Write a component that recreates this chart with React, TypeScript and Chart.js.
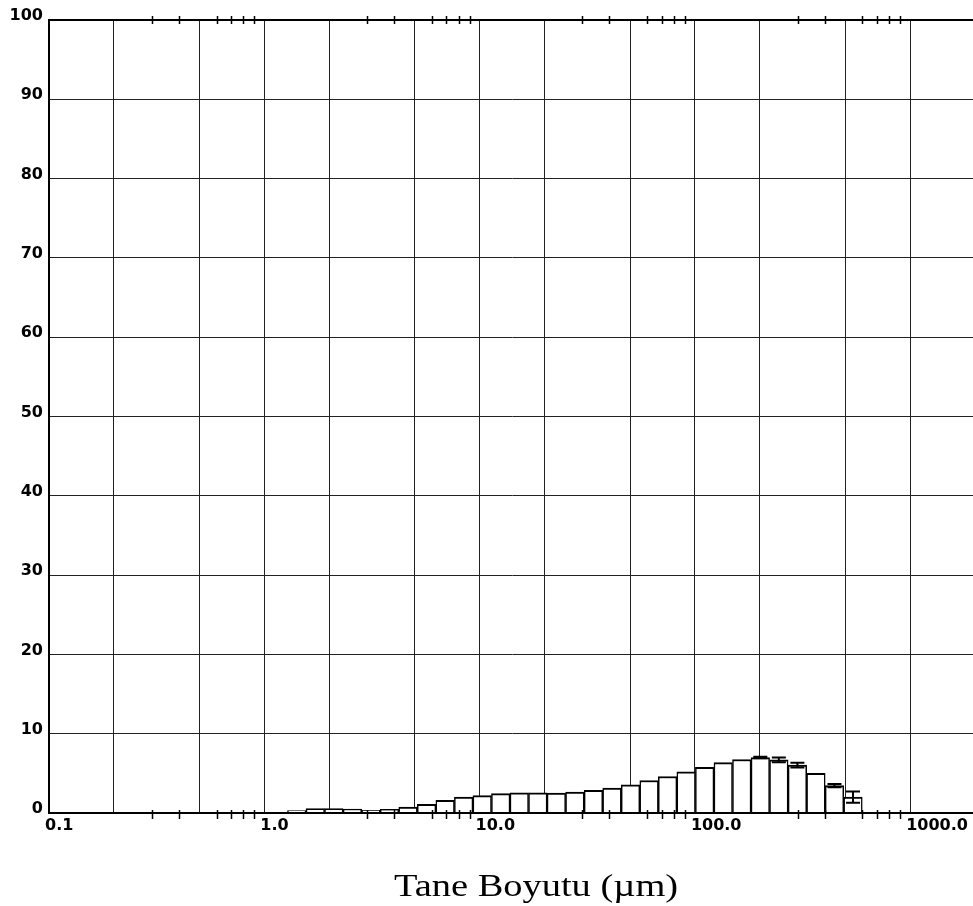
import React, { useEffect, useRef } from 'react';
import { Chart, registerables } from 'chart.js';

Chart.register(...registerables);

// Bin edges (µm)
const binEdges = [
  1.281, 1.563, 1.905, 2.323, 2.833, 3.454, 4.212, 5.136, 6.263, 7.636, 9.311,
  11.35, 13.84, 16.88, 20.58, 25.09, 30.6, 37.31, 45.49, 55.46, 67.63, 82.46,
  100.5, 122.6, 149.5, 182.3, 222.3, 271.0, 330.5, 402.9, 491.3, 599.0,
];
// Volume % per bin
const volumePercent = [
  0.3, 0.55, 0.55, 0.5, 0.35, 0.45, 0.75, 1.1, 1.6, 2.0, 2.2, 2.45, 2.55, 2.55,
  2.5, 2.65, 2.85, 3.15, 3.55, 4.1, 4.6, 5.2, 5.75, 6.35, 6.75, 7.0, 6.7, 6.05,
  5.0, 3.45, 2.0,
];
// Half-length of error bars per bin
const errorHalf = [
  0, 0, 0, 0, 0, 0, 0, 0, 0, 0, 0, 0, 0, 0, 0, 0, 0, 0, 0, 0, 0, 0, 0, 0, 0,
  0.1, 0.3, 0.3, 0, 0.2, 0.7,
];

const xGridValues = [0.1, 0.2, 0.5, 1, 2, 5, 10, 20, 50, 100, 200, 500, 1000, 2000];
const xLabelValues = [0.1, 1, 10, 100, 1000];
const xLabelTexts = ['0.1', '1.0', '10.0', '100.0', '1000.0'];
const xMinorValues = [
  0.3, 0.4, 0.6, 0.7, 0.8, 0.9, 3, 4, 6, 7, 8, 9, 30, 40, 60, 70, 80, 90, 300,
  400, 600, 700, 800, 900,
];
const yTickValues = [0, 10, 20, 30, 40, 50, 60, 70, 80, 90, 100];
const xTitle = 'Tane Boyutu (µm)';

export default function App() {
  const canvasRef = useRef<HTMLCanvasElement | null>(null);

  useEffect(() => {
    document.body.style.margin = '0';
    document.body.style.overflow = 'hidden';
    const canvas = canvasRef.current;
    if (!canvas) return;

    const centers = volumePercent.map((_, i) => Math.sqrt(binEdges[i] * binEdges[i + 1]));

    const decorPlugin = {
      id: 'decor',
      afterDatasetsDraw(chart: any) {
        const ctx = chart.ctx;
        const xs = chart.scales.x;
        const ys = chart.scales.y;
        ctx.save();
        ctx.strokeStyle = '#000';
        ctx.lineWidth = 2;
        errorHalf.forEach((e, i) => {
          if (!e) return;
          const px = xs.getPixelForValue(centers[i]);
          const y1 = ys.getPixelForValue(volumePercent[i] + e);
          const y2 = ys.getPixelForValue(volumePercent[i] - e);
          ctx.beginPath();
          ctx.moveTo(px, y1);
          ctx.lineTo(px, y2);
          ctx.moveTo(px - 7, y1);
          ctx.lineTo(px + 7, y1);
          ctx.moveTo(px - 7, y2);
          ctx.lineTo(px + 7, y2);
          ctx.stroke();
        });
        ctx.restore();
      },
      afterDraw(chart: any) {
        const ctx = chart.ctx;
        const xs = chart.scales.x;
        const area = chart.chartArea;
        ctx.save();
        ctx.strokeStyle = '#000';
        ctx.lineWidth = 1.5;
        xMinorValues.forEach((v) => {
          const px = Math.round(xs.getPixelForValue(v)) + 0.5;
          ctx.beginPath();
          ctx.moveTo(px, area.top - 4);
          ctx.lineTo(px, area.top + 4);
          ctx.moveTo(px, area.bottom - 3);
          ctx.lineTo(px, area.bottom + 6);
          ctx.stroke();
        });
        ctx.fillStyle = '#000';
        ctx.font = '31px "Liberation Serif", "Times New Roman", serif';
        ctx.textAlign = 'center';
        ctx.textBaseline = 'alphabetic';
        ctx.translate(area.left + 487, area.bottom + 83);
        ctx.scale(1.24, 1);
        ctx.fillText(xTitle, 0, 0);
        ctx.restore();
      },
    };

    const tickFont = { family: '"DejaVu Sans", sans-serif', weight: 'bold' as const, size: 16 };

    const chart = new Chart(canvas, {
      type: 'bar',
      data: {
        datasets: [
          {
            data: centers.map((c, i) => ({ x: c, y: volumePercent[i] })),
            backgroundColor: '#ffffff',
            borderColor: '#000000',
            borderWidth: { top: 2, left: 1.5, right: 1.5, bottom: 0 },
            barPercentage: 1,
            categoryPercentage: 1,
          } as any,
        ],
      },
      options: {
        responsive: false,
        animation: false,
        devicePixelRatio: 1,
        layout: { padding: { top: 20, right: 1, left: 0, bottom: 0 } },
        plugins: { legend: { display: false }, tooltip: { enabled: false } },
        scales: {
          x: {
            type: 'logarithmic',
            min: 0.1,
            max: 2000,
            offset: false,
            grid: { offset: false, drawTicks: false, color: '#222', lineWidth: 1 },
            border: { display: true, color: '#000', width: 2 },
            afterBuildTicks: (s: any) => {
              s.ticks = xGridValues.map((v) => ({ value: v }));
            },
            afterFit: (s: any) => {
              s.height = 93;
            },
            ticks: {
              autoSkip: false,
              maxRotation: 0,
              minRotation: 0,
              align: 'start',
              labelOffset: -4,
              padding: 3,
              color: '#000',
              font: tickFont,
              callback: (v: any) => {
                const i = xLabelValues.indexOf(Number(v));
                return i >= 0 ? xLabelTexts[i] : '';
              },
            },
          } as any,
          y: {
            type: 'linear',
            min: 0,
            max: 100,
            grid: {
              drawTicks: false,
              color: (c: any) => (c.tick && (c.tick.value === 100 || c.tick.value === 0) ? '#000' : '#222'),
              lineWidth: (c: any) => (c.tick && (c.tick.value === 100 || c.tick.value === 0) ? 2 : 1),
            },
            border: { display: true, color: '#000', width: 2 },
            afterBuildTicks: (s: any) => {
              s.ticks = yTickValues.map((v) => ({ value: v }));
            },
            afterFit: (s: any) => {
              s.width = 49;
            },
            ticks: {
              padding: 6,
              labelOffset: -4,
              color: '#000',
              font: tickFont,
              callback: (v: any) => String(v),
            },
          } as any,
        },
      },
      plugins: [decorPlugin],
    });

    return () => {
      chart.destroy();
    };
  }, []);

  return (
    <div style={{ width: 973, height: 906, overflow: 'hidden', background: '#fff' }}>
      <canvas ref={canvasRef} width={978} height={906} style={{ display: 'block' }} />
    </div>
  );
}
